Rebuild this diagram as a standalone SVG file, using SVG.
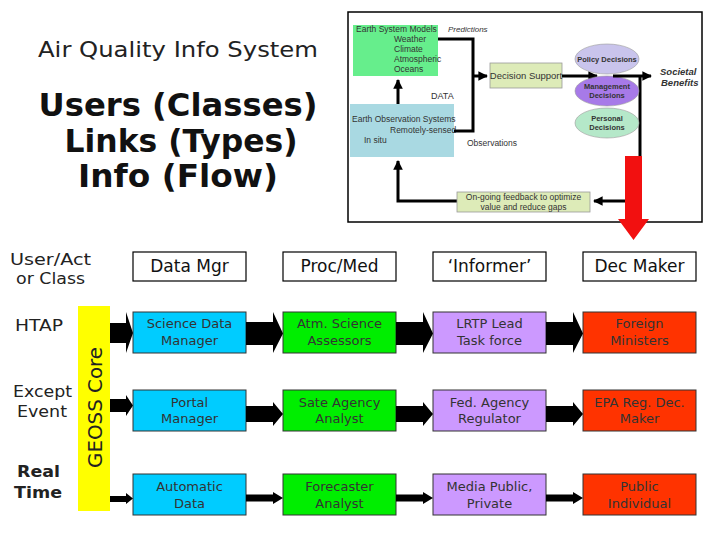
<svg xmlns="http://www.w3.org/2000/svg" width="720" height="540" viewBox="0 0 720 540">
<style>
.t{font-family:"DejaVu Sans",Verdana,sans-serif;fill:#222}
.hd{font-size:17px;text-anchor:middle;fill:#111}
.bx{font-size:13px;text-anchor:middle;fill:#333}
.lb{font-size:16px}
.big{font-family:"DejaVu Sans",Verdana,sans-serif;font-weight:bold;font-size:32px;text-anchor:middle;fill:#111}
.s{font-family:"Liberation Sans",Arial,sans-serif;fill:#333}
.hbox{fill:#fff;stroke:#000;stroke-width:1.2}
.cb{stroke:#333;stroke-width:1}
.blue{fill:#00CCFF}.green{fill:#00EE00}.lav{fill:#CC99FF}.red{fill:#FF3300}
.ln{fill:none;stroke:#000;stroke-width:3}
.arr{fill:#000}
</style>
<defs>
<marker id="ah" viewBox="0 0 10 10" refX="9" refY="5" markerWidth="3.2" markerHeight="3.2" orient="auto" markerUnits="strokeWidth">
<path d="M0,0 L10,5 L0,10 z" fill="#000"/>
</marker>
</defs>
<rect width="720" height="540" fill="#fff"/>

<!-- Titles -->
<g id="title">
<text class="t" x="38" y="57" font-size="22" textLength="280" lengthAdjust="spacingAndGlyphs">Air Quality Info System</text>
<text class="big" x="178" y="116" textLength="279" lengthAdjust="spacingAndGlyphs">Users (Classes)</text>
<text class="big" x="181" y="152" textLength="233" lengthAdjust="spacingAndGlyphs">Links (Types)</text>
<text class="big" x="178" y="187" textLength="200" lengthAdjust="spacingAndGlyphs">Info (Flow)</text>
</g>

<!-- Inset picture -->
<g id="inset">
<rect x="348" y="12" width="354" height="210" fill="#fff" stroke="#000" stroke-width="1.5"/>
<g id="esm">
<rect x="353" y="25" width="85" height="51" fill="#66EE8C"/>
<text class="s" font-size="8.5" x="356" y="31.5">Earth System Models</text>
<text class="s" font-size="8.5" x="394" y="42">Weather</text>
<text class="s" font-size="8.5" x="394" y="52">Climate</text>
<text class="s" font-size="8.5" x="394" y="62">Atmospheric</text>
<text class="s" font-size="8.5" x="394" y="72">Oceans</text>
</g>
<text class="s" font-size="8" font-style="italic" x="448" y="32">Predictions</text>
<g id="eos">
<rect x="350" y="104" width="104" height="53" fill="#A9D9E2"/>
<text class="s" font-size="8.5" x="352" y="122">Earth Observation Systems</text>
<text class="s" font-size="8.5" x="390" y="133">Remotely-sensed</text>
<text class="s" font-size="8.5" x="364" y="143">In situ</text>
</g>
<text class="s" font-size="9" x="431" y="99">DATA</text>
<text class="s" font-size="8.5" x="467" y="146">Observations</text>
<g id="ds">
<rect x="490" y="63" width="72" height="25" fill="#DDEBB8" stroke="#999" stroke-width="0.8"/>
<text class="s" font-size="9.5" x="526" y="79" text-anchor="middle">Decision Support</text>
</g>
<g id="inset-links">
<path class="ln" d="M438,39 H473 V131 H454"/>
<path class="ln" d="M473,76 H487" marker-end="url(#ah)"/>
<path class="ln" d="M398,104 V80" marker-end="url(#ah)"/>
<path class="ln" d="M562,76 H597" marker-end="url(#ah)"/>
<path class="ln" d="M640,76 V160"/>
<path class="ln" d="M457,201 H398 V161" marker-end="url(#ah)"/>
<path class="ln" d="M625,201 H594" marker-end="url(#ah)"/>
</g>
<g id="ellipses">
<ellipse cx="607" cy="59" rx="32" ry="15" fill="#C9C4EC" stroke="#999" stroke-width="0.6"/>
<text class="s" font-size="7.5" font-weight="bold" x="607" y="62" text-anchor="middle">Policy Decisions</text>
<ellipse cx="607" cy="91" rx="32" ry="15" fill="#A77AE8" stroke="#999" stroke-width="0.6"/>
<text class="s" font-size="7.5" font-weight="bold" x="607" y="89" text-anchor="middle">Management</text>
<text class="s" font-size="7.5" font-weight="bold" x="607" y="98" text-anchor="middle">Decisions</text>
<ellipse cx="607" cy="123" rx="32" ry="15" fill="#B5E8C9" stroke="#999" stroke-width="0.6"/>
<text class="s" font-size="7.5" font-weight="bold" x="607" y="121" text-anchor="middle">Personal</text>
<text class="s" font-size="7.5" font-weight="bold" x="607" y="130" text-anchor="middle">Decisions</text>
</g>
<path class="ln" d="M613,76 H651" marker-end="url(#ah)"/>
<text class="s" font-size="9.5" font-style="italic" font-weight="bold" x="660" y="75">Societal</text>
<text class="s" font-size="9.5" font-style="italic" font-weight="bold" x="661" y="86">Benefits</text>
<g id="feedback">
<rect x="457" y="192" width="133" height="20" fill="#DDEBB8" stroke="#999" stroke-width="0.8"/>
<text class="s" font-size="8.5" x="523.5" y="200" text-anchor="middle">On-going feedback to optimize</text>
<text class="s" font-size="8.5" x="523.5" y="209.5" text-anchor="middle">value and reduce gaps</text>
</g>
<polygon id="red-arrow" points="625,156 642,156 642,219 649,219 633.5,240 618,219 625,219" fill="#F21010"/>
</g>

<!-- Left labels -->
<g id="labels">
<text class="t lb" x="10" y="265" textLength="81" lengthAdjust="spacingAndGlyphs">User/Act</text>
<text class="t lb" x="16" y="284" textLength="69" lengthAdjust="spacingAndGlyphs">or Class</text>
<text class="t lb" x="15" y="331" textLength="48" lengthAdjust="spacingAndGlyphs">HTAP</text>
<text class="t lb" x="13" y="397" textLength="59" lengthAdjust="spacingAndGlyphs">Except</text>
<text class="t lb" x="17" y="417" textLength="50" lengthAdjust="spacingAndGlyphs">Event</text>
<text class="t lb" x="17" y="477" font-weight="bold" font-size="17" textLength="43" lengthAdjust="spacingAndGlyphs">Real</text>
<text class="t lb" x="14" y="498" font-weight="bold" font-size="17" textLength="48" lengthAdjust="spacingAndGlyphs">Time</text>
</g>

<g id="geoss-core">
<rect x="78" y="306" width="32" height="205" fill="#FFFF00"/>
<text class="t" font-size="20" fill="#333" transform="translate(101.5,468) rotate(-90)" textLength="121" lengthAdjust="spacingAndGlyphs">GEOSS Core</text>
</g>

<!-- Header nodes -->
<g id="h-datamgr"><rect class="hbox" x="133" y="252" width="113" height="29"/><text class="t hd" x="189.5" y="272">Data Mgr</text></g>
<g id="h-procmed"><rect class="hbox" x="283" y="252" width="113" height="29"/><text class="t hd" x="339.5" y="272">Proc/Med</text></g>
<g id="h-informer"><rect class="hbox" x="433" y="252" width="113" height="29"/><text class="t hd" x="489.5" y="272">‘Informer’</text></g>
<g id="h-decmaker"><rect class="hbox" x="583" y="252" width="113" height="29"/><text class="t hd" x="639.5" y="272">Dec Maker</text></g>

<!-- Row 1 -->
<g id="n-sdm"><rect class="cb blue" x="133" y="312" width="113" height="41"/><text class="t bx" x="189.5" y="328">Science  Data</text><text class="t bx" x="189.5" y="345">Manager</text></g>
<g id="n-asa"><rect class="cb green" x="283" y="312" width="113" height="41"/><text class="t bx" x="339.5" y="328">Atm. Science</text><text class="t bx" x="339.5" y="345">Assessors</text></g>
<g id="n-lrtp"><rect class="cb lav" x="433" y="312" width="113" height="41"/><text class="t bx" x="489.5" y="328">LRTP Lead</text><text class="t bx" x="489.5" y="345">Task force</text></g>
<g id="n-fm"><rect class="cb red" x="583" y="312" width="113" height="41"/><text class="t bx" x="639.5" y="328">Foreign</text><text class="t bx" x="639.5" y="345">Ministers</text></g>

<!-- Row 2 -->
<g id="n-pm"><rect class="cb blue" x="133" y="390" width="113" height="41"/><text class="t bx" x="189.5" y="407">Portal</text><text class="t bx" x="189.5" y="423">Manager</text></g>
<g id="n-saa"><rect class="cb green" x="283" y="390" width="113" height="41"/><text class="t bx" x="339.5" y="407">Sate Agency</text><text class="t bx" x="339.5" y="423">Analyst</text></g>
<g id="n-far"><rect class="cb lav" x="433" y="390" width="113" height="41"/><text class="t bx" x="489.5" y="407">Fed. Agency</text><text class="t bx" x="489.5" y="423">Regulator</text></g>
<g id="n-epa"><rect class="cb red" x="583" y="390" width="113" height="41"/><text class="t bx" x="639.5" y="407">EPA Reg. Dec.</text><text class="t bx" x="639.5" y="423">Maker</text></g>

<!-- Row 3 -->
<g id="n-ad"><rect class="cb blue" x="133" y="474" width="113" height="41"/><text class="t bx" x="189.5" y="491">Automatic</text><text class="t bx" x="189.5" y="508">Data</text></g>
<g id="n-fa"><rect class="cb green" x="283" y="474" width="113" height="41"/><text class="t bx" x="339.5" y="491">Forecaster</text><text class="t bx" x="339.5" y="508">Analyst</text></g>
<g id="n-mpp"><rect class="cb lav" x="433" y="474" width="113" height="41"/><text class="t bx" x="489.5" y="491">Media Public,</text><text class="t bx" x="489.5" y="508">Private</text></g>
<g id="n-pi"><rect class="cb red" x="583" y="474" width="113" height="41"/><text class="t bx" x="639.5" y="491">Public</text><text class="t bx" x="639.5" y="508">Individual</text></g>

<!-- Connectors -->
<g id="connectors" class="arr">
<polygon points="110,323 126,323 126,312 133,333 126,353 126,343 110,343"/>
<polygon points="246,322 273,322 273,312 283,333.5 273,353 273,345 246,345"/>
<polygon points="396,322 423,322 423,312 433,333.5 423,353 423,345 396,345"/>
<polygon points="546,322 573,322 573,312 583,333.5 573,353 573,345 546,345"/>

<polygon points="110,399 126,399 126,395 133,405.5 126,416 126,412 110,412"/>
<polygon points="246,406 273,406 273,402 283,414 273,426 273,422 246,422"/>
<polygon points="396,406 423,406 423,402 433,414 423,426 423,422 396,422"/>
<polygon points="546,406 573,406 573,402 583,414 573,426 573,422 546,422"/>

<polygon points="110,496 126,496 126,493 133,498.5 126,504 126,502 110,502"/>
<polygon points="246,494.5 273,494.5 273,492 283,498 273,504 273,501.5 246,501.5"/>
<polygon points="396,494.5 423,494.5 423,492 433,498 423,504 423,501.5 396,501.5"/>
<polygon points="546,494.5 573,494.5 573,492 583,498 573,504 573,501.5 546,501.5"/>
</g>
</svg>
